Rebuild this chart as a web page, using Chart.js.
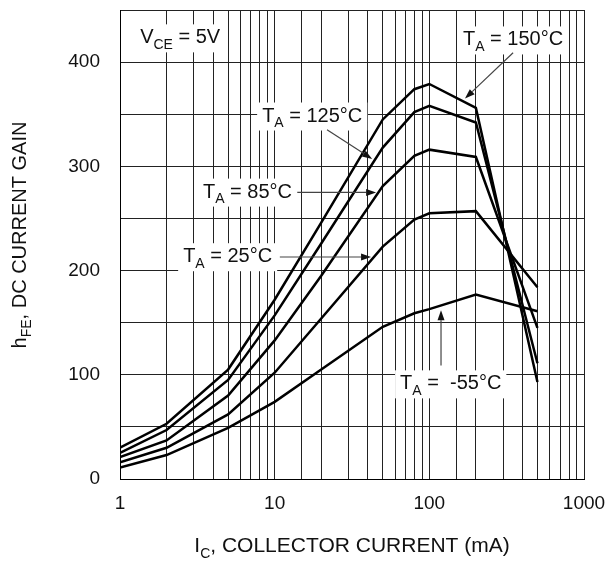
<!DOCTYPE html>
<html>
<head>
<meta charset="utf-8">
<script src="https://cdn.jsdelivr.net/npm/chart.js@4/dist/chart.umd.min.js"></script>
<style>
  html, body { margin: 0; padding: 0; background: #fff; }
  #wrap { width: 605px; height: 563px; position: relative; }
</style>
</head>
<body>
<div id="wrap"><canvas id="chart"></canvas></div>
<script>
// Collector current, mA
const IC = [1, 2, 5, 10, 20, 50, 80, 100, 200, 500];

// DC current gain for each ambient temperature
const hfe150 = [30, 53, 105, 172, 246, 345, 374, 379, 356, 93];
const hfe125 = [25, 47, 95, 157, 226, 318, 352, 358, 342, 111];
const hfe85 = [21, 37, 80, 133, 195, 281, 310, 316, 309, 145];
const hfe25 = [16, 30, 62, 102, 154, 223, 249, 255, 257, 184];
const hfeM55 = [11, 23, 49, 74, 105, 146, 159, 163, 177, 161];

const seriesNames = ['150°C', '125°C', '85°C', '25°C', '-55°C'];
const seriesValues = [hfe150, hfe125, hfe85, hfe25, hfeM55];

const xTickLabels = [1, 10, 100, 1000];
const yTickLabels = [0, 100, 200, 300, 400];

// label texts: [text, isSubscript]
const labelTexts = [
  [['V'], ['CE', 1], [' = 5V']],
  [['T'], ['A', 1], [' = 150\u00B0C']],
  [['T'], ['A', 1], [' = 125\u00B0C']],
  [['T'], ['A', 1], [' = 85\u00B0C']],
  [['T'], ['A', 1], [' = 25\u00B0C']],
  [['T'], ['A', 1], [' =  -55\u00B0C']],
];
// left / baseline of each label, in data units (mA, hFE)
const labelAnchors = [[1.35, 418], [165, 416], [8.3, 343], [3.44, 270], [2.56, 208], [64.7, 86]];
// arrows: from -> to, in data units
const arrows = [
  [[348, 409], [170, 365]],
  [[21.8, 335], [42.7, 307]],
  [[14, 275], [45.3, 275]],
  [[10.8, 213], [42, 213]],
  [[119, 109], [119, 162]],
];
const xTitle = [['I'], ['C', 1], [', COLLECTOR CURRENT (mA)']];
const yTitle = [['h'], ['FE', 1], [', DC CURRENT GAIN']];

const FAMILY = '"Liberation Sans", Arial, Helvetica, sans-serif';
const mainFont = (s) => s + 'px ' + FAMILY;

// Рисуем текст с подстрочными индексами
function richWidth(ctx, parts, size) {
  let w = 0;
  parts.forEach(([t, sub]) => {
    ctx.font = mainFont(sub ? Math.round(size * 0.68) : size);
    w += ctx.measureText(t).width;
  });
  return w;
}
function drawRich(ctx, parts, x, y, size) {
  let cx = x;
  parts.forEach(([t, sub]) => {
    ctx.font = mainFont(sub ? Math.round(size * 0.68) : size);
    ctx.fillText(t, cx, sub ? y + size * 0.27 : y);
    cx += ctx.measureText(t).width;
  });
}

function drawArrow(ctx, x1, y1, x2, y2) {
  const ang = Math.atan2(y2 - y1, x2 - x1);
  const len = 10, half = 3.5;
  const bx = x2 - len * Math.cos(ang), by = y2 - len * Math.sin(ang);
  ctx.strokeStyle = '#444';
  ctx.lineWidth = 1.2;
  ctx.beginPath();
  ctx.moveTo(x1, y1);
  ctx.lineTo(bx, by);
  ctx.stroke();
  ctx.fillStyle = '#111';
  ctx.beginPath();
  ctx.moveTo(x2, y2);
  ctx.lineTo(bx - half * Math.sin(ang), by + half * Math.cos(ang));
  ctx.lineTo(bx + half * Math.sin(ang), by - half * Math.cos(ang));
  ctx.closePath();
  ctx.fill();
}

// убираем внутренние отступы шкал, чтобы область графика была точно по layout.padding
function fixScale(scale, key, size) {
  scale[key] = size;
  scale.paddingTop = 0;
  scale.paddingBottom = 0;
  scale.paddingLeft = 0;
  scale.paddingRight = 0;
}

const annotationPlugin = {
  id: 'annotations',
  beforeDatasetsDraw(chart) {
    const { ctx, scales } = chart;
    ctx.save();
    ctx.textBaseline = 'alphabetic';
    ctx.textAlign = 'left';
    labelTexts.forEach((parts, i) => {
      const x = scales.x.getPixelForValue(labelAnchors[i][0]);
      const y = scales.y.getPixelForValue(labelAnchors[i][1]);
      const w = richWidth(ctx, parts, 20);
      ctx.fillStyle = '#fff';
      ctx.fillRect(x - 5, y - 19, w + 10, 28);
      ctx.fillStyle = '#111';
      drawRich(ctx, parts, x, y, 20);
    });
    ctx.restore();
  },
  afterDatasetsDraw(chart) {
    const { ctx, scales } = chart;
    ctx.save();
    arrows.forEach(([a, b]) => {
      drawArrow(ctx,
        scales.x.getPixelForValue(a[0]), scales.y.getPixelForValue(a[1]),
        scales.x.getPixelForValue(b[0]), scales.y.getPixelForValue(b[1]));
    });
    ctx.restore();
  },
  afterDraw(chart) {
    const { ctx, chartArea } = chart;
    ctx.save();
    ctx.fillStyle = '#111';
    ctx.textAlign = 'left';
    ctx.textBaseline = 'alphabetic';
    // подпись оси X
    const wx = richWidth(ctx, xTitle, 21);
    drawRich(ctx, xTitle, (chartArea.left + chartArea.right) / 2 - wx / 2, 552, 21);
    // подпись оси Y
    const wy = richWidth(ctx, yTitle, 20);
    ctx.translate(26, 235);
    ctx.rotate(-Math.PI / 2);
    drawRich(ctx, yTitle, -wy / 2, 0, 20);
    ctx.restore();
  },
};

const ctx = document.getElementById('chart').getContext('2d');
new Chart(ctx, {
  type: 'line',
  data: {
    datasets: seriesNames.map((name, i) => ({
      label: name,
      data: IC.map((x, j) => ({ x: x, y: seriesValues[i][j] })),
      borderColor: '#000',
      backgroundColor: '#000',
      borderWidth: 2.5,
      pointRadius: 0,
      tension: 0,
      fill: false,
    })),
  },
  options: {
    animation: false,
    responsive: true,
    maintainAspectRatio: false,
    layout: { padding: { top: 10, right: 21, left: 0, bottom: 0 } },
    plugins: {
      legend: { display: false },
      tooltip: { enabled: false },
      title: { display: false },
    },
    scales: {
      x: {
        type: 'logarithmic',
        min: 1,
        max: 1000,
        grid: { color: '#222', lineWidth: 1, drawTicks: false },
        border: { color: '#000', width: 1 },
        afterFit: (scale) => fixScale(scale, 'height', 84),
        ticks: {
          autoSkip: false,
          maxRotation: 0,
          minRotation: 0,
          padding: 13,
          color: '#111',
          font: { family: FAMILY, size: 19 },
          callback: (value) => (xTickLabels.includes(value) ? String(value) : ''),
        },
      },
      y: {
        type: 'linear',
        min: 0,
        max: 450,
        grid: { color: '#222', lineWidth: 1, drawTicks: false },
        border: { color: '#000', width: 1 },
        afterFit: (scale) => fixScale(scale, 'width', 120),
        ticks: {
          stepSize: 50,
          padding: 20,
          color: '#111',
          font: { family: FAMILY, size: 19 },
          callback: (value) => (yTickLabels.includes(value) ? String(value) : ''),
        },
      },
    },
  },
  plugins: [annotationPlugin],
});
</script>
</body>
</html>
